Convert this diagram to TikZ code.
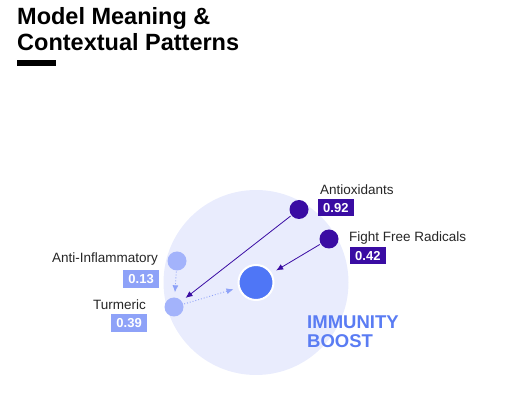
\documentclass[tikz,border=0pt]{standalone}
\usepackage{fontspec}
\setmainfont{Liberation Sans}
\usepackage{tikz}
\usetikzlibrary{arrows.meta,positioning}

\definecolor{deepviolet}{HTML}{3A0CA3}
\definecolor{paleblue}{HTML}{A3B3FB}
\definecolor{boxblue}{HTML}{8EA2F8}
\definecolor{coreblue}{HTML}{4F76F6}
\definecolor{haloblue}{HTML}{E9ECFD}
\definecolor{boostblue}{HTML}{5A7CF3}

\begin{document}
\begin{tikzpicture}[x=1pt,y=-1pt,
  dot/.style={circle,minimum size=19pt,inner sep=0pt},
  label/.style={font=\fontsize{13.5}{15}\selectfont,inner sep=0pt,text=black!85},
  score/.style={font=\fontsize{13}{14}\selectfont\bfseries,text=white,minimum height=17pt,inner xsep=5pt,inner ysep=0pt},
  strongarrow/.style={-{Latex[length=7pt,width=6pt]},deepviolet,line width=0.8pt,shorten >=5pt,shorten <=1pt},
  weakarrow/.style={-{Latex[length=7pt,width=6pt]},boxblue,line width=0.9pt,dotted,shorten >=5pt,shorten <=1pt}]
\useasboundingbox (0,0) rectangle (520,403);

% title
\node[anchor=base west,inner sep=0pt,font=\fontsize{23.5}{25}\selectfont\bfseries] (title1) at (17,25) {Model Meaning \&};
\node[anchor=base west,inner sep=0pt,font=\fontsize{23.5}{25}\selectfont\bfseries] (title2) at (17,50.5) {Contextual Patterns};
\fill[black] (17,60) rectangle (56,66);

% field
\node[circle,fill=haloblue,minimum size=185pt,inner sep=0pt] (field) at (256,282.5) {};
\node[circle,fill=coreblue,draw=white,line width=2pt,minimum size=35pt,inner sep=0pt] (boost) at (256,282.5) {};
\node[anchor=north west,align=left,inner sep=0pt,text=boostblue,font=\fontsize{18.5}{19}\selectfont\bfseries] (boosttext) at (307,315.5) {IMMUNITY\\BOOST};

% feature nodes
\node[dot,fill=deepviolet] (antiox) at (299,209.5) {};
\node[dot,fill=deepviolet] (radicals) at (329,239) {};
\node[dot,fill=paleblue] (antiinfl) at (177,261) {};
\node[dot,fill=paleblue] (turmeric) at (174,307) {};

% labels and scores
\node[label,anchor=west] (antioxlabel) at (320,190) {Antioxidants};
\node[score,fill=deepviolet,anchor=west] (antioxscore) at (318,208) {0.92};
\node[label,anchor=west] (radicalslabel) at (349,238) {Fight Free Radicals};
\node[score,fill=deepviolet,anchor=west] (radicalsscore) at (350,256) {0.42};
\node[label,anchor=east] (antiinfllabel) at (158,259) {Anti-Inflammatory};
\node[score,fill=boxblue,anchor=east,minimum height=18pt] (antiinflscore) at (159,279.5) {0.13};
\node[label,anchor=east] (turmericlabel) at (146,305) {Turmeric};
\node[score,fill=boxblue,anchor=east,minimum height=18pt] (turmericscore) at (147,323) {0.39};

% links
\draw[strongarrow] (antiox) -- (turmeric);
\draw[strongarrow] (radicals) -- (boost);
\draw[weakarrow] (antiinfl) -- (turmeric);
\draw[weakarrow] (turmeric) -- (boost);
\end{tikzpicture}
\end{document}
